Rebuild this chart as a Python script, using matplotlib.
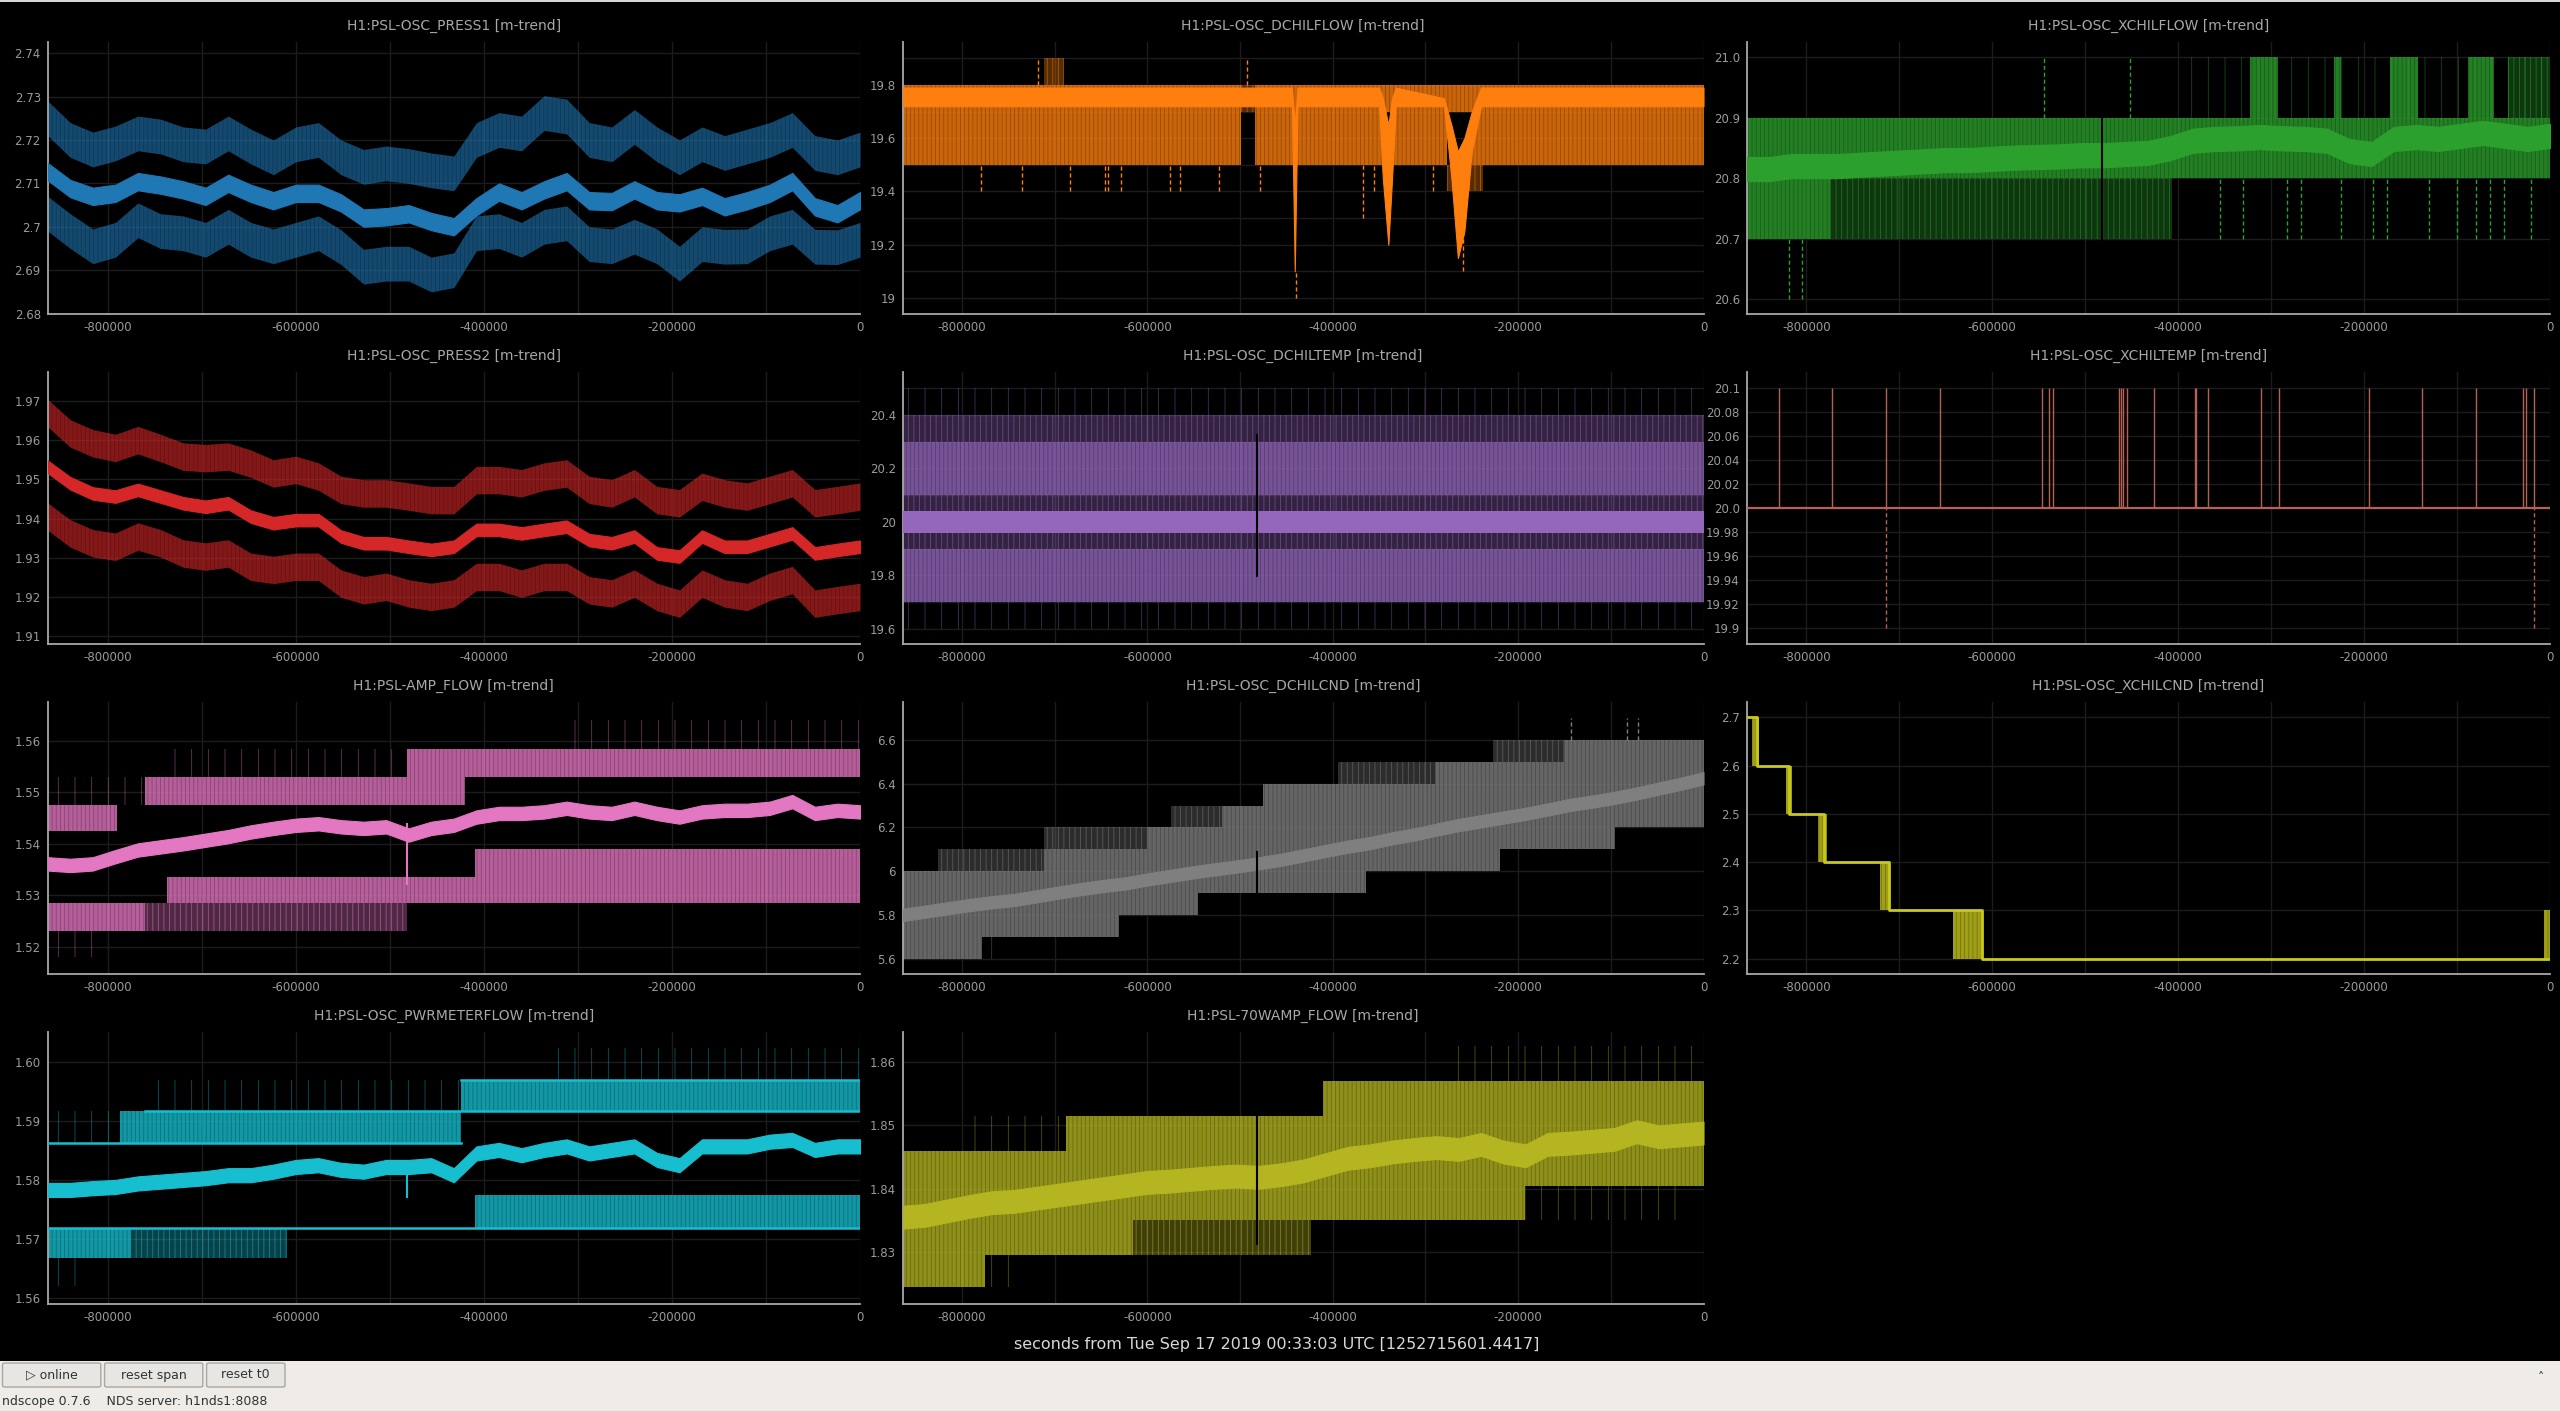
import matplotlib
matplotlib.use("Agg")
import matplotlib.pyplot as plt
from matplotlib.patches import Rectangle, FancyBboxPatch

plt.rcParams['font.family'] = ['DejaVu Sans']
plt.rcParams['hatch.linewidth'] = 0.6

# ---------------- data ----------------
T = [-864000, -840000, -816000, -792000, -768000, -744000, -720000, -696000, -672000,
     -648000, -624000, -600000, -576000, -552000, -528000, -504000, -480000, -456000,
     -432000, -408000, -384000, -360000, -336000, -312000, -288000, -264000, -240000,
     -216000, -192000, -168000, -144000, -120000, -96000, -72000, -48000, -24000, 0]

XTICKS = [-800000, -600000, -400000, -200000, 0]
XTICKLABELS = ['-800000', '-600000', '-400000', '-200000', '0']
XGRID = [-800000, -700000, -600000, -500000, -400000, -300000, -200000, -100000, 0]

TITLES = ['H1:PSL-OSC_PRESS1 [m-trend]', 'H1:PSL-OSC_DCHILFLOW [m-trend]',
          'H1:PSL-OSC_XCHILFLOW [m-trend]', 'H1:PSL-OSC_PRESS2 [m-trend]',
          'H1:PSL-OSC_DCHILTEMP [m-trend]', 'H1:PSL-OSC_XCHILTEMP [m-trend]',
          'H1:PSL-AMP_FLOW [m-trend]', 'H1:PSL-OSC_DCHILCND [m-trend]',
          'H1:PSL-OSC_XCHILCND [m-trend]', 'H1:PSL-OSC_PWRMETERFLOW [m-trend]',
          'H1:PSL-70WAMP_FLOW [m-trend]']
XLABEL = 'seconds from Tue Sep 17 2019 00:33:03 UTC [1252715601.4417]'

YLIMS = [(2.6799, 2.7425), (18.94, 19.96), (20.575, 21.025), (1.908, 1.9773),
         (19.543, 20.56), (19.887, 20.1128), (1.5147, 1.5675), (5.530, 6.772),
         (2.168, 2.731), (1.5589, 1.6051), (1.8218, 1.8647)]
YTICKS = [[2.68, 2.69, 2.70, 2.71, 2.72, 2.73, 2.74],
          [19.0, 19.2, 19.4, 19.6, 19.8],
          [20.6, 20.7, 20.8, 20.9, 21.0],
          [1.91, 1.92, 1.93, 1.94, 1.95, 1.96, 1.97],
          [19.6, 19.8, 20.0, 20.2, 20.4],
          [19.90, 19.92, 19.94, 19.96, 19.98, 20.00, 20.02, 20.04, 20.06, 20.08, 20.10],
          [1.52, 1.53, 1.54, 1.55, 1.56],
          [5.6, 5.8, 6.0, 6.2, 6.4, 6.6],
          [2.2, 2.3, 2.4, 2.5, 2.6, 2.7],
          [1.56, 1.57, 1.58, 1.59, 1.60],
          [1.83, 1.84, 1.85, 1.86]]
YLABELS = [['2.68', '2.69', '2.7', '2.71', '2.72', '2.73', '2.74'],
           ['19', '19.2', '19.4', '19.6', '19.8'],
           ['20.6', '20.7', '20.8', '20.9', '21.0'],
           ['1.91', '1.92', '1.93', '1.94', '1.95', '1.96', '1.97'],
           ['19.6', '19.8', '20', '20.2', '20.4'],
           ['19.9', '19.92', '19.94', '19.96', '19.98', '20.0', '20.02', '20.04', '20.06', '20.08', '20.1'],
           ['1.52', '1.53', '1.54', '1.55', '1.56'],
           ['5.6', '5.8', '6', '6.2', '6.4', '6.6'],
           ['2.2', '2.3', '2.4', '2.5', '2.6', '2.7'],
           ['1.56', '1.57', '1.58', '1.59', '1.60'],
           ['1.83', '1.84', '1.85', '1.86']]
YGRID_EXTRA = {1: [19.1, 19.3, 19.5, 19.7, 19.9],
               4: [19.7, 19.9, 20.1, 20.3, 20.5]}

# PRESS1 (max / mean / min trends)
press1_max = [2.725, 2.720, 2.7178, 2.7192, 2.7215, 2.7208, 2.719, 2.7185, 2.7215, 2.7185,
              2.716, 2.719, 2.720, 2.716, 2.7138, 2.7146, 2.714, 2.713, 2.7123, 2.720,
              2.7223, 2.7215, 2.7262, 2.7254, 2.720, 2.719, 2.723, 2.719, 2.716, 2.719,
              2.717, 2.7185, 2.720, 2.7223, 2.717, 2.716, 2.7178]
press1_mean = [2.7127, 2.7088, 2.707, 2.7077, 2.7104, 2.7096, 2.7085, 2.707, 2.710, 2.7077,
               2.706, 2.7077, 2.7077, 2.7055, 2.702, 2.7023, 2.703, 2.7012, 2.700, 2.7046,
               2.708, 2.706, 2.7085, 2.7104, 2.706, 2.7058, 2.7085, 2.706, 2.7055, 2.707,
               2.7046, 2.706, 2.7077, 2.7104, 2.7046, 2.703, 2.706]
press1_min = [2.703, 2.699, 2.6955, 2.697, 2.7015, 2.699, 2.6985, 2.697, 2.700, 2.697,
              2.6955, 2.697, 2.6985, 2.6953, 2.6908, 2.6915, 2.6915, 2.689, 2.690, 2.6985,
              2.699, 2.697, 2.700, 2.7008, 2.696, 2.6955, 2.6977, 2.6955, 2.6915, 2.696,
              2.6954, 2.6955, 2.6985, 2.700, 2.6954, 2.6953, 2.697]
press1_spread = [0.0040, 0.0020, 0.0040]

# PRESS2
press2_max = [1.9669, 1.9617, 1.9592, 1.958, 1.960, 1.958, 1.9558, 1.9554, 1.9558, 1.954,
              1.9515, 1.9524, 1.9507, 1.9473, 1.9464, 1.9464, 1.9456, 1.9447, 1.9447, 1.9498,
              1.9498, 1.949, 1.9507, 1.9515, 1.9473, 1.9464, 1.949, 1.9447, 1.9439, 1.9481,
              1.9464, 1.9456, 1.9473, 1.949, 1.9439, 1.9447, 1.9456]
press2_mean = [1.9532, 1.949, 1.9464, 1.9456, 1.9473, 1.9456, 1.9439, 1.943, 1.9439, 1.9405,
               1.9388, 1.9396, 1.9396, 1.9354, 1.9337, 1.9337, 1.9328, 1.932, 1.9328, 1.9371,
               1.9371, 1.9362, 1.9371, 1.9379, 1.9345, 1.9337, 1.9354, 1.9311, 1.9303, 1.9354,
               1.9328, 1.9328, 1.9345, 1.9362, 1.9311, 1.932, 1.9328]
press2_min = [1.9405, 1.9362, 1.9337, 1.9328, 1.9354, 1.9337, 1.9311, 1.9303, 1.9311, 1.9277,
              1.9269, 1.9277, 1.9277, 1.9234, 1.9217, 1.9226, 1.9209, 1.920, 1.9209, 1.9251,
              1.9251, 1.9234, 1.9251, 1.9251, 1.9217, 1.9209, 1.9234, 1.920, 1.9183, 1.9234,
              1.9209, 1.920, 1.9226, 1.9243, 1.9183, 1.9192, 1.920]
press2_spread = [0.0035, 0.0016, 0.0035]

# DCHILFLOW: quantised trends (band = t0, t1, lo, hi, density 0..2)
dflow_bands = [(-864000, -499000, 19.5, 19.7, 2), (-484000, -346000, 19.5, 19.7, 2),
               (-334000, -277000, 19.5, 19.7, 2), (-250000, 0, 19.5, 19.7, 2),
               (-712000, -690000, 19.8, 19.9, 1), (-277000, -238000, 19.4, 19.5, 1),
               (-864000, -499000, 19.7, 19.8, 2), (-484000, 0, 19.7, 19.8, 2),
               (-499000, -484000, 19.7, 19.8, 1)]
dflow_mean_t = [-864000, -444000, -441000, -438000, -350000, -346000, -340000, -336000,
                -332000, -280000, -272000, -265000, -258000, -250000, -240000, 0]
dflow_mean_lo = [19.72, 19.72, 19.10, 19.72, 19.72, 19.45, 19.20, 19.45, 19.72, 19.72,
                 19.45, 19.15, 19.25, 19.55, 19.72, 19.72]
dflow_mean_hi = [19.79, 19.79, 19.65, 19.79, 19.79, 19.75, 19.65, 19.75, 19.79, 19.75,
                 19.65, 19.55, 19.60, 19.70, 19.79, 19.79]
dflow_spikes = [(-780000, 19.4, 19.5), (-735000, 19.4, 19.5), (-684000, 19.4, 19.5),
                (-646000, 19.4, 19.5), (-643000, 19.4, 19.5), (-628000, 19.4, 19.5),
                (-576000, 19.4, 19.5), (-565000, 19.4, 19.5), (-523000, 19.4, 19.5),
                (-478000, 19.4, 19.5), (-440000, 19.0, 19.1), (-367000, 19.3, 19.5),
                (-355000, 19.4, 19.5), (-292000, 19.4, 19.5), (-718000, 19.8, 19.9),
                (-492000, 19.8, 19.9), (-260000, 19.1, 19.3)]

# XCHILFLOW
xflow_bands = [(-864000, 0, 20.8, 20.9, 2), (-864000, -774000, 20.7, 20.8, 2),
               (-774000, -407000, 20.7, 20.8, 1), (-400000, 0, 20.9, 21.0, 0),
               (-323000, -293000, 20.9, 21.0, 2), (-232000, -225000, 20.9, 21.0, 2),
               (-172000, -142000, 20.9, 21.0, 2), (-88000, -60000, 20.9, 21.0, 2),
               (-45000, 0, 20.9, 21.0, 1)]
xflow_mean = [20.815, 20.815, 20.82, 20.82, 20.82, 20.822, 20.824, 20.826, 20.828, 20.83,
              20.83, 20.832, 20.834, 20.835, 20.836, 20.838, 20.838, 20.84, 20.842, 20.85,
              20.862, 20.865, 20.866, 20.868, 20.866, 20.865, 20.862, 20.845, 20.84, 20.865,
              20.868, 20.865, 20.87, 20.875, 20.87, 20.865, 20.87]
xflow_spread = 0.02
xflow_spikes = [(-819000, 20.6, 20.7), (-804000, 20.6, 20.7), (-355000, 20.7, 20.8),
                (-330000, 20.7, 20.8), (-283000, 20.7, 20.8), (-268000, 20.7, 20.8),
                (-225000, 20.7, 20.8), (-190000, 20.7, 20.8), (-175000, 20.7, 20.8),
                (-130000, 20.7, 20.8), (-100000, 20.7, 20.8), (-80000, 20.7, 20.8),
                (-65000, 20.7, 20.8), (-50000, 20.7, 20.8), (-20000, 20.7, 20.8),
                (-544000, 20.9, 21.0), (-452000, 20.9, 21.0)]

# DCHILTEMP
dtemp_bands = [(-864000, 0, 20.4, 20.5, 0), (-864000, 0, 20.3, 20.4, 1),
               (-864000, 0, 20.2, 20.3, 2), (-864000, 0, 20.1, 20.2, 2),
               (-864000, 0, 20.04, 20.1, 1), (-864000, 0, 19.9, 19.96, 1),
               (-864000, 0, 19.8, 19.9, 2), (-864000, 0, 19.7, 19.8, 2),
               (-864000, 0, 19.6, 19.7, 0)]
dtemp_mean = 20.0
dtemp_spread = 0.042

# XCHILTEMP
xtemp_base = 20.0
xtemp_spike_t = [-829000, -772000, -714000, -656000, -546000, -539000, -534500, -464000,
                 -461000, -459000, -455000, -426000, -382000, -381000, -368000, -311000,
                 -292000, -195000, -138000, -80000, -28600, -26000, -16700]
xtemp_spike_top = 20.1
xtemp_down_t = [-714000, -16700]
xtemp_down_bottom = 19.9

# AMP_FLOW
amp_bands = [(-864000, -790000, 1.5425, 1.5475, 2), (-864000, -760000, 1.5475, 1.553, 0),
             (-760000, -420000, 1.5475, 1.553, 2), (-740000, -482000, 1.553, 1.5585, 0),
             (-482000, 0, 1.553, 1.5585, 2), (-864000, -760000, 1.523, 1.5285, 2),
             (-760000, -482000, 1.523, 1.5285, 1), (-737000, 0, 1.5285, 1.5335, 2),
             (-410000, 0, 1.5335, 1.539, 2), (-864000, -800000, 1.518, 1.523, 0),
             (-310000, 0, 1.5585, 1.564, 0)]
amp_mean = [1.5361, 1.5358, 1.5361, 1.5375, 1.5388, 1.5394, 1.5400, 1.5407, 1.5414, 1.5423,
            1.5430, 1.5436, 1.5439, 1.5433, 1.5430, 1.5433, 1.5417, 1.5430, 1.5436, 1.5452,
            1.5459, 1.5459, 1.5462, 1.5469, 1.5462, 1.5459, 1.5469, 1.5459, 1.5452, 1.5462,
            1.5465, 1.5465, 1.5469, 1.5482, 1.5459, 1.5465, 1.5462]
amp_spread = 0.0013
amp_spikes = [(-482000, 1.5320, 1.5440)]

# DCHILCND
dcnd_bands = [(-864000, -778000, 5.6, 5.7, 2), (-778000, -751000, 5.6, 5.7, 0),
              (-864000, -631000, 5.7, 5.8, 2), (-864000, -545000, 5.8, 5.9, 2),
              (-864000, -364000, 5.9, 6.0, 2), (-826000, -712000, 6.0, 6.1, 1),
              (-712000, -220000, 6.0, 6.1, 2), (-712000, -600000, 6.1, 6.2, 1),
              (-600000, -95000, 6.1, 6.2, 2), (-575000, -520000, 6.2, 6.3, 1),
              (-520000, 0, 6.2, 6.3, 2), (-475000, 0, 6.3, 6.4, 2),
              (-394000, -290000, 6.4, 6.5, 1), (-290000, 0, 6.4, 6.5, 2),
              (-227000, -150000, 6.5, 6.6, 1), (-150000, 0, 6.5, 6.6, 2)]
dcnd_mean = [5.800, 5.815, 5.830, 5.845, 5.858, 5.868, 5.885, 5.902, 5.918, 5.932,
             5.944, 5.962, 5.978, 5.994, 6.008, 6.021, 6.036, 6.052, 6.072, 6.092,
             6.112, 6.128, 6.150, 6.168, 6.190, 6.211, 6.228, 6.245, 6.262, 6.282,
             6.303, 6.318, 6.335, 6.355, 6.378, 6.400, 6.425]
dcnd_spread = 0.028
dcnd_spikes = [(-143000, 6.6, 6.7), (-83000, 6.6, 6.7), (-71000, 6.6, 6.7)]

# XCHILCND (step trend)
xcnd_step_t = [-864000, -853000, -818000, -781000, -711000, -611000, 0]
xcnd_step_v = [2.7, 2.6, 2.5, 2.4, 2.3, 2.2, 2.2]
xcnd_trans = [(-858000, -851000, 2.6, 2.7), (-822000, -815000, 2.5, 2.6),
              (-787000, -778000, 2.4, 2.5), (-721000, -710000, 2.3, 2.4),
              (-642000, -610000, 2.2, 2.3), (-6500, 0, 2.2, 2.3)]

# PWRMETERFLOW
pwr_bands = [(-864000, -787000, 1.5862, 1.5917, 0), (-787000, -424000, 1.5862, 1.5917, 2),
             (-760000, -424000, 1.5917, 1.597, 0), (-424000, 0, 1.5917, 1.597, 2),
             (-330000, 0, 1.597, 1.6025, 0), (-864000, -775000, 1.5667, 1.5718, 2),
             (-775000, -610000, 1.5667, 1.5718, 1), (-410000, 0, 1.5718, 1.5775, 2),
             (-864000, -820000, 1.562, 1.5667, 0)]
pwr_levels = [(1.5862, -864000, -424000), (1.5917, -760000, 0), (1.5718, -864000, 0),
              (1.5970, -424000, 0)]
pwr_mean = [1.5783, 1.5783, 1.5786, 1.5788, 1.5794, 1.5797, 1.5800, 1.5803, 1.5808, 1.5808,
            1.5814, 1.5822, 1.5825, 1.5817, 1.5814, 1.5822, 1.5822, 1.5825, 1.5808, 1.5845,
            1.5851, 1.5842, 1.5851, 1.5857, 1.5845, 1.5851, 1.5857, 1.5834, 1.5825, 1.5857,
            1.5857, 1.5857, 1.5865, 1.5868, 1.5851, 1.5857, 1.5857]
pwr_spread = 0.0012
pwr_spikes = [(-482000, 1.5770, 1.5830)]

# 70WAMP_FLOW
w70_bands = [(-864000, -775000, 1.8245, 1.8295, 2), (-775000, -739000, 1.8245, 1.8295, 0),
             (-864000, -616000, 1.8295, 1.835, 2), (-616000, -424000, 1.8295, 1.835, 1),
             (-864000, -193000, 1.835, 1.8405, 2), (-193000, -30000, 1.835, 1.8405, 0),
             (-864000, 0, 1.8405, 1.846, 2), (-800000, -688000, 1.846, 1.8515, 0),
             (-688000, 0, 1.846, 1.8515, 2), (-410000, 0, 1.8515, 1.857, 2),
             (-280000, 0, 1.857, 1.8625, 0)]
w70_mean = [1.8355, 1.8358, 1.8365, 1.8372, 1.8378, 1.8380, 1.8385, 1.8390, 1.8395, 1.8400,
            1.8405, 1.8410, 1.8412, 1.8415, 1.8418, 1.8420, 1.8418, 1.8422, 1.8428, 1.8438,
            1.8448, 1.8452, 1.8458, 1.8462, 1.8465, 1.8462, 1.8470, 1.8458, 1.8452, 1.8470,
            1.8472, 1.8475, 1.8478, 1.8490, 1.8482, 1.8485, 1.8488]
w70_spread = 0.0018

GAP_T = -482000

COLORS = ['#1f77b4', '#ff7f0e', '#2ca02c', '#d62728', '#9467bd', '#b46253',
          '#e377c2', '#7f7f7f', '#c8c81e', '#17becf', '#b4b520']

# ---------------- figure ----------------
W, H = 2560.0, 1411.0
fig = plt.figure(figsize=(25.6, 14.11), dpi=100, facecolor='black')
COLS = [(47.7, 860.0), (902.7, 1703.5), (1746.7, 2550.0)]
ROWS = [(42.3, 314.0), (372.3, 644.0), (702.3, 974.0), (1032.3, 1304.0)]

axes = []
for i in range(11):
    r, c = divmod(i, 3)
    l, rr = COLS[c]
    t, b = ROWS[r]
    ax = fig.add_axes([l / W, 1 - b / H, (rr - l) / W, (b - t) / H])
    ax.set_facecolor('black')
    ax.set_xlim(-864000, 0)
    ax.set_ylim(*YLIMS[i])
    ax.set_xticks(XTICKS)
    ax.set_xticklabels(XTICKLABELS)
    ax.set_xticks(XGRID, minor=True)
    ax.set_yticks(YTICKS[i])
    ax.set_yticklabels(YLABELS[i])
    if i in YGRID_EXTRA:
        ax.set_yticks(YGRID_EXTRA[i], minor=True)
    ax.grid(True, which='both', color='#1c1c1c', lw=1.0)
    ax.set_axisbelow(True)
    for s in ['top', 'right']:
        ax.spines[s].set_visible(False)
    for s in ['left', 'bottom']:
        ax.spines[s].set_color('#a8a8a8')
        ax.spines[s].set_linewidth(1.3)
    ax.tick_params(which='both', length=0, colors='#9a9a9a', labelsize=8.5, pad=5)
    ax.set_title(TITLES[i], color='#a8a8a8', fontsize=10, pad=9)
    axes.append(ax)


def noisy(ax, c, s, color, solid):
    lo = [v - s for v in c]
    hi = [v + s for v in c]
    if solid:
        ax.fill_between(T, lo, hi, color=color, alpha=1.0, lw=0.8, zorder=3)
    else:
        ax.fill_between(T, lo, hi, color=color, alpha=0.62, lw=0, zorder=2)
        ax.fill_between(T, lo, hi, facecolor='none', edgecolor='black', hatch='||||',
                        lw=0, alpha=0.22, zorder=2.1)


def band(ax, t0, t1, lo, hi, color, lvl):
    if lvl == 2:
        ax.fill_between([t0, t1], lo, hi, color=color, alpha=0.8, lw=0, zorder=2)
        ax.fill_between([t0, t1], lo, hi, facecolor='none', edgecolor='black',
                        hatch='||||', lw=0, alpha=0.25, zorder=2.1)
    elif lvl == 1:
        ax.fill_between([t0, t1], lo, hi, color=color, alpha=0.35, lw=0, zorder=2)
        ax.fill_between([t0, t1], lo, hi, facecolor='none', edgecolor=color,
                        hatch='|||', lw=0, alpha=0.55, zorder=2.1)
    else:
        ax.fill_between([t0, t1], lo, hi, facecolor='none', edgecolor=color,
                        hatch='|', lw=0, alpha=0.45, zorder=2.1)


def spikes(ax, lst, color):
    for (t, lo, hi) in lst:
        ax.vlines(t, lo, hi, color=color, lw=1.0, linestyles=(0, (3, 2)), zorder=2.5)


# P1 PRESS1
ax = axes[0]
noisy(ax, press1_max, press1_spread[0], COLORS[0], False)
noisy(ax, press1_min, press1_spread[2], COLORS[0], False)
noisy(ax, press1_mean, press1_spread[1], COLORS[0], True)

# P2 DCHILFLOW
ax = axes[1]
for (t0, t1, lo, hi, lvl) in dflow_bands:
    band(ax, t0, t1, lo, hi, COLORS[1], lvl)
ax.fill_between(dflow_mean_t, dflow_mean_lo, dflow_mean_hi, color=COLORS[1], lw=0.8, zorder=3)
spikes(ax, dflow_spikes, COLORS[1])

# P3 XCHILFLOW
ax = axes[2]
for (t0, t1, lo, hi, lvl) in xflow_bands:
    band(ax, t0, t1, lo, hi, COLORS[2], lvl)
noisy(ax, xflow_mean, xflow_spread, COLORS[2], True)
spikes(ax, xflow_spikes, COLORS[2])
ax.axvline(GAP_T, ymin=0.2, ymax=0.72, color='black', lw=1.5, zorder=4)

# P4 PRESS2
ax = axes[3]
noisy(ax, press2_max, press2_spread[0], COLORS[3], False)
noisy(ax, press2_min, press2_spread[2], COLORS[3], False)
noisy(ax, press2_mean, press2_spread[1], COLORS[3], True)

# P5 DCHILTEMP
ax = axes[4]
for (t0, t1, lo, hi, lvl) in dtemp_bands:
    band(ax, t0, t1, lo, hi, COLORS[4], lvl)
ax.fill_between([T[0], T[-1]], dtemp_mean - dtemp_spread, dtemp_mean + dtemp_spread,
                color=COLORS[4], lw=0, zorder=3)
ax.axvline(GAP_T, ymin=0.25, ymax=0.77, color='black', lw=1.5, zorder=4)

# P6 XCHILTEMP
ax = axes[5]
ax.plot([T[0], T[-1]], [xtemp_base, xtemp_base], color=COLORS[5], lw=1.6, zorder=3)
ax.vlines(xtemp_spike_t, xtemp_base, xtemp_spike_top, color=COLORS[5], lw=1.0, zorder=3)
ax.vlines(xtemp_down_t, xtemp_down_bottom, xtemp_base, color=COLORS[5], lw=1.0,
          linestyles=(0, (3, 2)), zorder=3)

# P7 AMP_FLOW
ax = axes[6]
for (t0, t1, lo, hi, lvl) in amp_bands:
    band(ax, t0, t1, lo, hi, COLORS[6], lvl)
noisy(ax, amp_mean, amp_spread, COLORS[6], True)
for (t, lo, hi) in amp_spikes:
    ax.vlines(t, lo, hi, color=COLORS[6], lw=1.5, zorder=3)

# P8 DCHILCND
ax = axes[7]
for (t0, t1, lo, hi, lvl) in dcnd_bands:
    band(ax, t0, t1, lo, hi, COLORS[7], lvl)
noisy(ax, dcnd_mean, dcnd_spread, COLORS[7], True)
spikes(ax, dcnd_spikes, COLORS[7])
ax.axvline(GAP_T, ymin=0.28, ymax=0.45, color='black', lw=1.5, zorder=4)

# P9 XCHILCND
ax = axes[8]
for (t0, t1, lo, hi) in xcnd_trans:
    band(ax, t0, t1, lo, hi, COLORS[8], 2)
ax.step(xcnd_step_t, xcnd_step_v, where='post', color=COLORS[8], lw=2.0, zorder=3)

# P10 PWRMETERFLOW
ax = axes[9]
for (t0, t1, lo, hi, lvl) in pwr_bands:
    band(ax, t0, t1, lo, hi, COLORS[9], lvl)
for (v, t0, t1) in pwr_levels:
    ax.plot([t0, t1], [v, v], color=COLORS[9], lw=1.8, zorder=3)
noisy(ax, pwr_mean, pwr_spread, COLORS[9], True)
for (t, lo, hi) in pwr_spikes:
    ax.vlines(t, lo, hi, color=COLORS[9], lw=1.5, zorder=3)

# P11 70WAMP_FLOW
ax = axes[10]
for (t0, t1, lo, hi, lvl) in w70_bands:
    band(ax, t0, t1, lo, hi, COLORS[10], lvl)
noisy(ax, w70_mean, w70_spread, COLORS[10], True)
ax.axvline(GAP_T, ymin=0.22, ymax=0.74, color='black', lw=1.5, zorder=4)

# x label
fig.text(1277 / W, 1 - 1344 / H, XLABEL, color='#d8d8d8', fontsize=11.5,
         ha='center', va='center')

# bottom tool bar
fig.patches.append(Rectangle((0, 0), 1, 50 / H, transform=fig.transFigure,
                             facecolor='#efebe7', edgecolor='none', zorder=0))
BUTTONS = ['\u25b7 online', 'reset span', 'reset t0']
BTN_X = [(2.5, 100.8), (104.6, 202.8), (206.6, 285.0)]
for txt, (x0, x1) in zip(BUTTONS, BTN_X):
    y0, y1 = 1363.0, 1387.0
    fig.patches.append(FancyBboxPatch((x0 / W, 1 - y1 / H), (x1 - x0) / W, (y1 - y0) / H,
                                      boxstyle='round,pad=0,rounding_size=0.001',
                                      transform=fig.transFigure, facecolor='#e8e6e3',
                                      edgecolor='#a9a7a3', lw=1.0, zorder=1))
    fig.text((x0 + x1) / 2 / W, 1 - (y0 + y1) / 2 / H, txt, color='#2e3436',
             fontsize=9, ha='center', va='center')
fig.text(2 / W, 1 - 1402 / H, 'ndscope 0.7.6    NDS server: h1nds1:8088', color='#2e3436',
         fontsize=9, ha='left', va='center')
fig.text(2541 / W, 1 - 1378 / H, '\u02c4', color='#2e3436', fontsize=9,
         ha='center', va='center')

# thin light frame at the top edge
fig.patches.append(Rectangle((0, 1 - 2 / H), 1, 2 / H, transform=fig.transFigure,
                             facecolor='#d8d8d8', edgecolor='none', zorder=0))

fig.savefig('out.png', dpi=100, facecolor='black')
